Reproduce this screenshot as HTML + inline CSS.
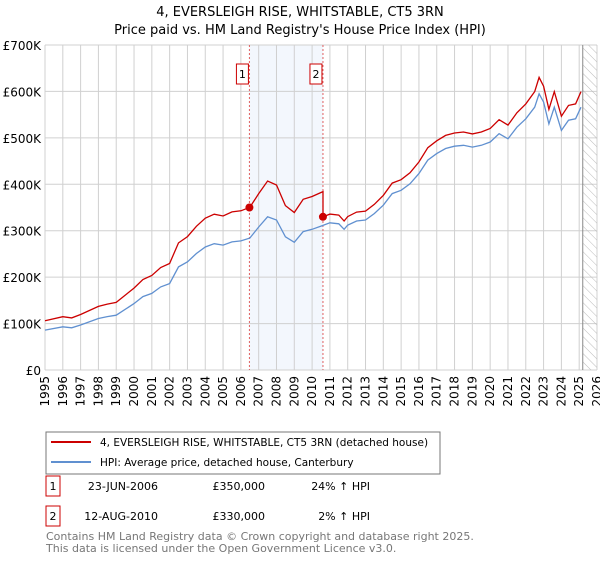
<!DOCTYPE html>
<html><head><meta charset="utf-8"><style>
body{margin:0;background:#fff;font-family:"Liberation Sans","DejaVu Sans",sans-serif}
svg text{font-family:"DejaVu Sans","Liberation Sans",sans-serif}
</style></head><body>
<svg id="c" width="600" height="560" xmlns="http://www.w3.org/2000/svg">
<defs><pattern id="hatch" width="6" height="6" patternUnits="userSpaceOnUse" patternTransform="rotate(-45)"><line x1="0" y1="0" x2="0" y2="6" stroke="#bbb" stroke-width="1"/></pattern></defs>
<text x="300" y="16" font-size="13" text-anchor="middle">4, EVERSLEIGH RISE, WHITSTABLE, CT5 3RN</text>
<text x="300" y="34" font-size="13" text-anchor="middle">Price paid vs. HM Land Registry's House Price Index (HPI)</text>
<g id="plot"></g>
<rect x="46" y="432" width="394" height="42" fill="#fff" stroke="#777"/>
<line x1="51" y1="442" x2="91" y2="442" stroke="#cc0000" stroke-width="2"/>
<text x="100" y="446" font-size="10.5">4, EVERSLEIGH RISE, WHITSTABLE, CT5 3RN (detached house)</text>
<line x1="51" y1="462" x2="91" y2="462" stroke="#6090d0" stroke-width="2"/>
<text x="100" y="466" font-size="10.5">HPI: Average price, detached house, Canterbury</text>
<rect x="46" y="476" width="14" height="20" fill="#fff" stroke="#cc0000"/>
<text x="53" y="490" font-size="11" text-anchor="middle">1</text>
<text x="158" y="490" font-size="11" text-anchor="end">23-JUN-2006</text>
<text x="265" y="490" font-size="11" text-anchor="end">£350,000</text>
<text x="370" y="490" font-size="11" text-anchor="end">24% ↑ HPI</text>
<rect x="46" y="506" width="14" height="20" fill="#fff" stroke="#cc0000"/>
<text x="53" y="520" font-size="11" text-anchor="middle">2</text>
<text x="158" y="520" font-size="11" text-anchor="end">12-AUG-2010</text>
<text x="265" y="520" font-size="11" text-anchor="end">£330,000</text>
<text x="370" y="520" font-size="11" text-anchor="end">2% ↑ HPI</text>
<text x="46" y="540" font-size="11" fill="#777">Contains HM Land Registry data © Crown copyright and database right 2025.</text>
<text x="46" y="552" font-size="11" fill="#777">This data is licensed under the Open Government Licence v3.0.</text>
</svg>
<script>
const hpiYears=[1995,1996,1996.5,1997,1998,1998.5,1999,2000,2000.5,2001,2001.5,2002,2002.5,2003,2003.5,2004,2004.5,2005,2005.5,2006,2006.5,2007,2007.5,2008,2008.5,2009,2009.5,2010,2010.5,2011,2011.5,2011.8,2012,2012.5,2013,2013.5,2014,2014.5,2015,2015.5,2016,2016.5,2017,2017.5,2018,2018.5,2019,2019.5,2020,2020.5,2021,2021.5,2022,2022.5,2022.75,2023,2023.3,2023.6,2024,2024.4,2024.8,2025.1];
const hpiValues=[86,93,91,97,111,115,118,143,158,165,179,186,222,233,251,265,272,269,276,278,284,308,330,323,287,275,298,303,310,317,315,303,312,321,323,337,355,380,387,401,423,452,466,477,482,484,480,484,491,509,498,523,541,566,595,577,530,566,516,538,541,566];
const saleYears=[2006.48,2010.61];
const salePrices=[350,330];
const saleLabels=["1","2"];
const yTicks=[0,100,200,300,400,500,600,700];
const yTickLabels=["£0","£100K","£200K","£300K","£400K","£500K","£600K","£700K"];
const xTicks=[1995,1996,1997,1998,1999,2000,2001,2002,2003,2004,2005,2006,2007,2008,2009,2010,2011,2012,2013,2014,2015,2016,2017,2018,2019,2020,2021,2022,2023,2024,2025,2026];
const dataEnd=2025.2;

const L=45,R=597,T=45,B=370,X0=1995,X1=2026,Ymax=700;
const xs=v=>L+(v-X0)/(X1-X0)*(R-L);
const ys=v=>B-v/Ymax*(B-T);
const NS="http://www.w3.org/2000/svg";
const g=document.getElementById('plot');
function mk(tag,attrs){const e=document.createElementNS(NS,tag);for(const k in attrs)e.setAttribute(k,attrs[k]);g.appendChild(e);return e;}
function hpiAt(t){for(let i=0;i<hpiYears.length-1;i++){if(t>=hpiYears[i]&&t<=hpiYears[i+1]){const f=(t-hpiYears[i])/(hpiYears[i+1]-hpiYears[i]);return hpiValues[i]+f*(hpiValues[i+1]-hpiValues[i]);}}return hpiValues[hpiValues.length-1];}
let sh=mk('rect',{x:xs(saleYears[0]),y:T,width:xs(saleYears[1])-xs(saleYears[0]),height:B-T,fill:'#eef3fc',opacity:0.7});


xTicks.forEach((yr,i)=>{
 const l=mk('line',{x1:xs(yr),x2:xs(yr),y1:T,y2:B,stroke:'#d0d0d0','stroke-width':1});
 
 
 const t=mk('text',{x:0,y:0,'font-size':12,'text-anchor':'end',transform:`translate(${xs(yr)+4},${B+6}) rotate(-90)`});
 t.textContent=yr;
 
 
});
yTicks.forEach((v,i)=>{
 const l=mk('line',{x1:L,x2:R,y1:ys(v),y2:ys(v),stroke:'#d0d0d0','stroke-width':1});
 
 
 const t=mk('text',{x:L-4,y:ys(v)+5,'font-size':12,'text-anchor':'end'});
 t.textContent=yTickLabels[i];
 
 
});
let ht=mk('rect',{x:xs(dataEnd),y:T,width:R-xs(dataEnd),height:B-T,fill:'url(#hatch)'});


let dl=mk('line',{x1:xs(dataEnd),x2:xs(dataEnd),y1:T,y2:B,stroke:'#888','stroke-width':1});


saleYears.forEach((yr,i)=>{
 const l=mk('line',{x1:xs(yr),x2:xs(yr),y1:T,y2:B,stroke:'#e06060','stroke-width':1,'stroke-dasharray':'2,2'});
 
 
 const r=mk('rect',{x:xs(yr)-13,y:64,width:12,height:20,fill:'#fff',stroke:'#cc0000'});
 
 
 const t=mk('text',{x:xs(yr)-7,y:78,'font-size':11,'text-anchor':'middle'});
 t.textContent=saleLabels[i];
 
 
});
const ratios=saleYears.map((yr,i)=>salePrices[i]/hpiAt(yr));
function redVal(t,v){ if(t<=saleYears[1]) return v*ratios[0]; return v*ratios[1]; }
let bp=hpiYears.map((t,i)=>`${xs(t).toFixed(1)},${ys(hpiValues[i]).toFixed(1)}`).join(' ');
let pts=[];
hpiYears.forEach((t,i)=>{
 if(t>saleYears[1]&&hpiYears[i-1]<=saleYears[1]){pts.push([saleYears[1],hpiAt(saleYears[1])*ratios[0]]);pts.push([saleYears[1],salePrices[1]]);}
 pts.push([t,redVal(t,hpiValues[i])]);
});
let rp=pts.map(p=>`${xs(p[0]).toFixed(1)},${ys(p[1]).toFixed(1)}`).join(' ');
let bl=mk('polyline',{points:bp,fill:'none',stroke:'#6090d0','stroke-width':1.3});


let rl=mk('polyline',{points:rp,fill:'none',stroke:'#cc0000','stroke-width':1.3});


saleYears.forEach((yr,i)=>{
 const c=mk('circle',{cx:xs(yr),cy:ys(salePrices[i]),r:4,fill:'#cc0000'});
 
 
});
</script>
</body></html>
